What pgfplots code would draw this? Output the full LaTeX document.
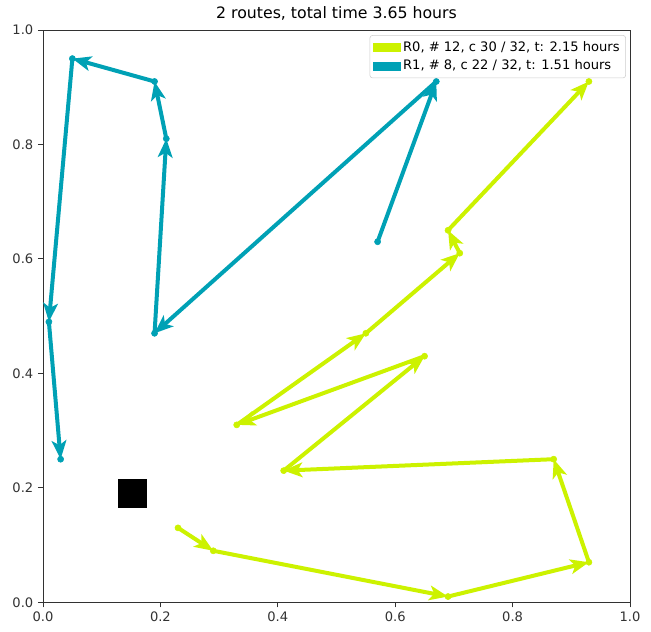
\documentclass[border=0pt]{standalone}
\usepackage{pgfplots}
\pgfplotsset{compat=1.18}
\usepackage{pgfplotstable}
\usepackage{fontspec}
\setmainfont{DejaVu Sans}
\usetikzlibrary{arrows.meta}
\definecolor{rzero}{RGB}{204,242,0}
\definecolor{rone}{RGB}{0,161,181}
\definecolor{axgray}{RGB}{50,50,50}

% route R0 segments: x y nx ny
\pgfplotstableread{
x y nx ny
0.23 0.13 0.29 0.09
0.29 0.09 0.69 0.01
0.69 0.01 0.93 0.07
0.93 0.07 0.87 0.25
0.87 0.25 0.41 0.23
0.41 0.23 0.65 0.43
0.65 0.43 0.33 0.31
0.33 0.31 0.55 0.47
0.55 0.47 0.71 0.61
0.71 0.61 0.69 0.65
0.69 0.65 0.93 0.91
}\routezero
\pgfplotstableread{
x y
0.23 0.13
0.29 0.09
0.69 0.01
0.93 0.07
0.87 0.25
0.41 0.23
0.65 0.43
0.33 0.31
0.55 0.47
0.71 0.61
0.69 0.65
0.93 0.91
}\pointszero
% route R1 segments
\pgfplotstableread{
x y nx ny
0.57 0.63 0.67 0.91
0.67 0.91 0.19 0.47
0.19 0.47 0.21 0.81
0.21 0.81 0.19 0.91
0.19 0.91 0.05 0.95
0.05 0.95 0.01 0.49
0.01 0.49 0.03 0.25
}\routeone
\pgfplotstableread{
x y
0.57 0.63
0.67 0.91
0.19 0.47
0.21 0.81
0.19 0.91
0.05 0.95
0.01 0.49
0.03 0.25
}\pointsone

\begin{document}
\begin{tikzpicture}
\begin{axis}[
  scale only axis,
  width=440pt, height=429pt,
  xmin=0, xmax=1, ymin=0, ymax=1,
  xtick={0,0.2,0.4,0.6,0.8,1.0},
  ytick={0,0.2,0.4,0.6,0.8,1.0},
  xticklabel style={/pgf/number format/.cd,fixed,fixed zerofill,precision=1},
  yticklabel style={/pgf/number format/.cd,fixed,fixed zerofill,precision=1},
  /pgf/number format/assume math mode=true,
  tick label style={font=\fontsize{9.8}{12}\selectfont, text=axgray},
  tick align=outside,
  major tick length=3.8pt,
  tick style={axgray, line width=0.6pt},
  axis line style={axgray, line width=0.6pt},
  xtick pos=bottom, ytick pos=left,
  title={2 routes, total time 3.65 hours},
  title style={font=\fontsize{11.8}{13}\selectfont, yshift=-2pt},
  legend style={at={(0.993,0.991)}, anchor=north east, font=\fontsize{9.8}{12}\selectfont,
    draw=black!20, rounded corners=2pt, inner sep=2.5pt, row sep=1pt},
  legend cell align=left,
  clip=false,
]
\addlegendimage{legend image code/.code={\fill[rzero, sharp corners] (0pt,-3pt) rectangle (20pt,3pt);}}
\addlegendentry{R0, \# 12, c 30 / 32, t: 2.15 hours}
\addlegendimage{legend image code/.code={\fill[rone, sharp corners] (0pt,-3pt) rectangle (20pt,3pt);}}
\addlegendentry{R1, \# 8, c 22 / 32, t: 1.51 hours}

\addplot[forget plot, rzero, line width=3pt,
  quiver={u=\thisrow{nx}-\thisrow{x}, v=\thisrow{ny}-\thisrow{y},
    every arrow/.append style={-{Stealth[length=14pt,width=11pt,inset=3.5pt]}}}]
  table[x=x,y=y] {\routezero};
\addplot[forget plot, only marks, mark=*, mark size=2.3pt, rzero] table[x=x,y=y] {\pointszero};

\addplot[forget plot, rone, line width=3pt,
  quiver={u=\thisrow{nx}-\thisrow{x}, v=\thisrow{ny}-\thisrow{y},
    every arrow/.append style={-{Stealth[length=14pt,width=11pt,inset=3.5pt]}}}]
  table[x=x,y=y] {\routeone};
\addplot[forget plot, only marks, mark=*, mark size=2.3pt, rone] table[x=x,y=y] {\pointsone};

\addplot[forget plot, only marks, mark=square*, mark size=10.5pt, black] coordinates {(0.152,0.19)};
\coordinate (bbl) at (rel axis cs:-0.0733,-0.0507);
\coordinate (btr) at (rel axis cs:1.0358,1.0524);
\end{axis}
\pgfresetboundingbox
\path[use as bounding box] (bbl) rectangle (btr);
\end{tikzpicture}
\end{document}
